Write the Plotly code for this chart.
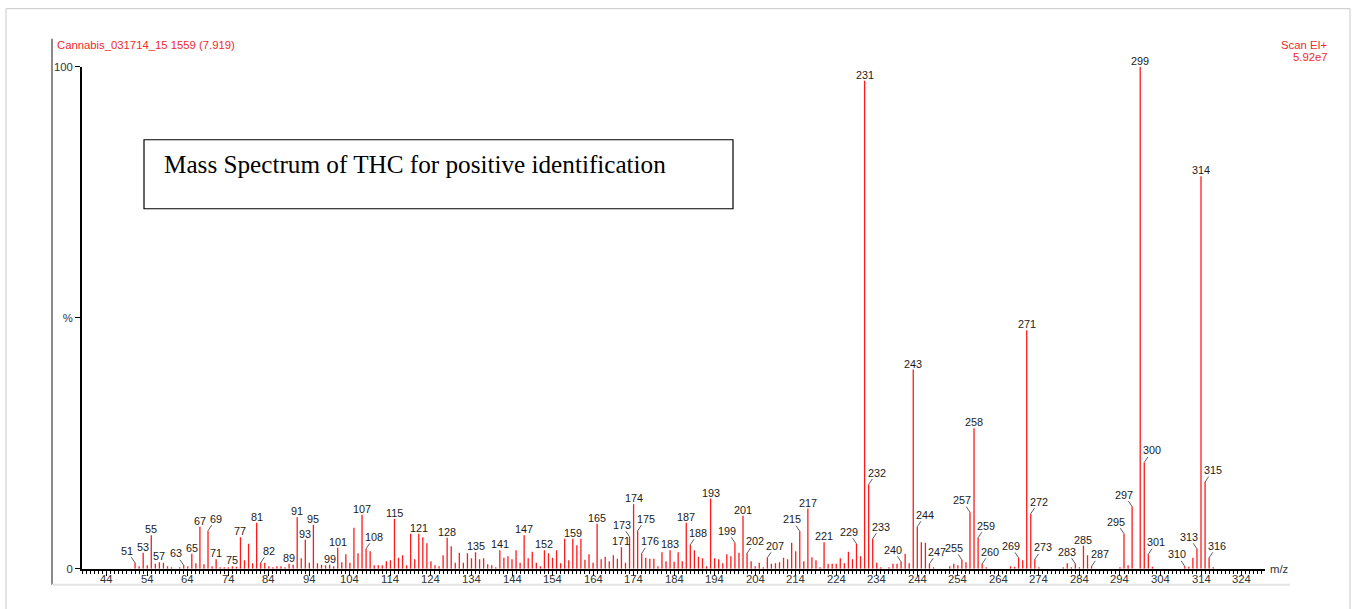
import plotly.graph_objects as go

# ---------------- data ----------------
mz = [51, 52, 53, 54, 55, 56, 57, 58, 59, 60, 62, 63, 64, 65, 66, 67, 68, 69, 70, 71,
      72, 73, 74, 75, 76, 77, 78, 79, 80, 81, 82, 83, 84, 85, 86, 87, 88, 89, 90, 91,
      92, 93, 94, 95, 96, 97, 98, 99, 100, 101, 102, 103, 104, 105, 106, 107, 108, 109, 110, 111,
      112, 113, 114, 115, 116, 117, 118, 119, 120, 121, 122, 123, 124, 125, 126, 127, 128, 129, 130, 131,
      132, 133, 134, 135, 136, 137, 138, 139, 140, 141, 142, 143, 144, 145, 146, 147, 148, 149, 150, 151,
      152, 153, 154, 155, 156, 157, 158, 159, 160, 161, 162, 163, 164, 165, 166, 167, 168, 169, 170, 171,
      172, 173, 174, 175, 176, 177, 178, 179, 180, 181, 182, 183, 184, 185, 186, 187, 188, 189, 190, 191,
      192, 193, 194, 195, 196, 197, 198, 199, 200, 201, 202, 203, 204, 205, 206, 207, 208, 209, 210, 211,
      212, 213, 214, 215, 216, 217, 218, 219, 220, 221, 222, 223, 224, 225, 226, 227, 228, 229, 230, 231,
      232, 233, 234, 235, 237, 238, 239, 240, 241, 242, 243, 244, 245, 246, 247, 248, 252, 253, 254, 255,
      256, 257, 258, 259, 260, 261, 267, 268, 269, 270, 271, 272, 273, 274, 280, 281, 282, 283, 284, 285,
      286, 287, 294, 295, 296, 297, 299, 300, 301, 302, 310, 311, 312, 313, 314, 315, 316, 317]

intensity = [1.2, 0.5, 3.2, 0.7, 6.7, 1.0, 1.3, 1.2, 0.5, 0.3, 0.3, 0.7, 0.5, 3.0, 1.1, 8.4, 0.9, 7.6, 0.5, 1.9,
             0.3, 0.3, 0.3, 0.5, 0.4, 6.3, 1.7, 5.0, 1.1, 9.2, 1.2, 1.2, 0.5, 0.3, 0.5, 0.5, 0.3, 1.0, 0.8, 10.3,
             2.1, 5.8, 1.2, 8.8, 1.1, 0.8, 0.7, 0.8, 0.5, 4.2, 1.3, 2.9, 1.2, 8.2, 3.1, 10.8, 4.0, 3.5, 0.7, 0.7,
             0.7, 1.5, 1.7, 10.0, 2.2, 2.7, 0.7, 7.0, 1.9, 7.0, 6.3, 5.1, 1.5, 0.7, 0.5, 2.7, 6.2, 4.5, 1.2, 3.2,
             1.2, 3.1, 2.1, 3.3, 1.9, 2.1, 0.9, 0.7, 0.3, 3.7, 2.2, 2.5, 1.9, 3.7, 1.2, 6.7, 2.1, 3.4, 1.2, 0.5,
             3.7, 3.1, 2.2, 3.7, 1.1, 6.0, 1.7, 6.0, 4.7, 6.0, 1.8, 2.9, 1.2, 9.0, 1.9, 2.4, 1.5, 2.7, 2.0, 4.3,
             1.2, 6.4, 12.9, 7.6, 3.1, 2.2, 2.0, 2.0, 0.5, 3.3, 1.5, 3.7, 1.4, 3.3, 1.5, 9.2, 4.8, 3.7, 2.4, 2.1,
             0.5, 14.0, 2.1, 1.9, 1.1, 2.9, 2.5, 5.2, 3.2, 10.6, 3.1, 1.5, 0.5, 1.2, 0.3, 2.2, 1.0, 1.1, 1.3, 2.2,
             1.9, 5.2, 3.5, 7.5, 1.5, 12.0, 2.3, 1.7, 0.3, 5.3, 1.0, 1.0, 1.0, 2.1, 1.1, 3.4, 1.9, 5.0, 2.5, 97.2,
             16.8, 6.0, 1.2, 0.3, 0.3, 1.0, 1.0, 1.4, 3.0, 1.1, 39.7, 8.4, 5.3, 5.2, 1.0, 0.3, 0.5, 1.0, 0.7, 1.8,
             1.3, 11.3, 28.0, 6.2, 1.0, 0.3, 0.5, 0.4, 2.2, 1.7, 47.5, 11.0, 1.9, 0.3, 0.3, 1.1, 0.3, 1.0, 0.3, 4.6,
             2.7, 0.5, 0.3, 7.0, 0.7, 12.4, 100.0, 21.2, 2.9, 0.4, 0.5, 0.4, 2.2, 4.0, 78.2, 17.3, 2.2, 0.3]

# labelled peaks: text straight above, or with a short leader to the left / right
labels_above = [53, 55, 57, 65, 67, 71, 75, 77, 81, 89, 91, 93, 95, 99, 101, 107, 115, 121, 128,
                135, 141, 147, 152, 159, 165, 171, 174, 183, 187, 193, 201, 217, 221, 231, 243, 258,
                271, 285, 299, 314]
labels_left = [51, 63, 173, 199, 215, 229, 240, 255, 257, 269, 283, 295, 297, 310, 313]
labels_right = [69, 82, 108, 175, 176, 188, 202, 207, 232, 233, 244, 247, 259, 260, 272, 273, 287,
                300, 301, 315, 316]

x_tick_vals = list(range(44, 325, 10))
y_tick_vals = [0, 50, 100]
y_tick_text = ["0", "%", "100"]

header_left = "Cannabis_031714_15 1559 (7.919)"
header_right_1 = "Scan EI+"
header_right_2 = "5.92e7"
x_axis_label = "m/z"
title_text = "Mass Spectrum of THC for positive identification"

# ---------------- figure ----------------
W, H = 1355, 609
RED = "#ff1a1a"
SANS = "Liberation Sans, Arial, sans-serif"
# small empirical vertical correction of the rendered page
VS, VO = 0.98, 5.3


def px(xp):
    return xp / W


def py(yp):
    return 1 - ((yp - VO) / VS) / H


peak = dict(zip(mz, intensity))

xs, ys = [], []
for m, v in zip(mz, intensity):
    xs += [m, m, None]
    ys += [0, v, None]

fig = go.Figure()
fig.add_trace(go.Scatter(x=xs, y=ys, mode="lines",
                         line=dict(color=RED, width=1.3),
                         hoverinfo="skip", showlegend=False))

annotations = []
lab_font = dict(family=SANS, size=10.8, color="#1a1a1a")
for m in labels_above:
    annotations.append(dict(x=m, y=peak[m], xref="x", yref="y", text=str(m),
                            showarrow=False, xanchor="center", yanchor="bottom",
                            yshift=-1, font=lab_font, borderpad=0))
for m in labels_left:
    annotations.append(dict(x=m, y=peak[m], xref="x", yref="y", text=str(m),
                            showarrow=True, arrowhead=0, arrowwidth=0.8, arrowcolor="#333",
                            ax=-8, ay=-12, standoff=0, font=lab_font, borderpad=0))
for m in labels_right:
    annotations.append(dict(x=m, y=peak[m], xref="x", yref="y", text=str(m),
                            showarrow=True, arrowhead=0, arrowwidth=0.8, arrowcolor="#333",
                            ax=8, ay=-12, standoff=0, font=lab_font, borderpad=0))

# x tick labels (drawn as annotations to sit tight under the axis)
tick_font = dict(family=SANS, size=11.3, color="#333")
for t in x_tick_vals:
    annotations.append(dict(x=t, y=0, xref="x", yref="y", text=str(t), showarrow=False,
                            xanchor="center", yanchor="middle", yshift=-10, font=tick_font))

hdr_font = dict(family=SANS, size=11.3, color="#ee2a2a")
annotations += [
    dict(x=px(55), y=py(44), xref="paper", yref="paper", text=header_left, showarrow=False,
         xanchor="left", yanchor="middle", font=hdr_font),
    dict(x=px(1330), y=py(44), xref="paper", yref="paper", text=header_right_1, showarrow=False,
         xanchor="right", yanchor="middle", font=hdr_font),
    dict(x=px(1330), y=py(56), xref="paper", yref="paper", text=header_right_2, showarrow=False,
         xanchor="right", yanchor="middle", font=hdr_font),
    dict(x=px(1268), y=py(568), xref="paper", yref="paper", text=x_axis_label, showarrow=False,
         xanchor="left", yanchor="middle", font=dict(family=SANS, size=11.3, color="#333")),
    dict(x=px(162), y=py(164), xref="paper", yref="paper", text=title_text, showarrow=False,
         xanchor="left", yanchor="middle",
         font=dict(family="Liberation Serif, Times New Roman, serif", size=25.2, color="#000")),
]

shapes = [
    # outer frame
    dict(type="rect", xref="paper", yref="paper", x0=px(6), x1=px(1350), y0=py(660), y1=py(8),
         line=dict(color="#c8c8c8", width=1), layer="below"),
    # inner left rule
    dict(type="line", xref="paper", yref="paper", x0=px(52), x1=px(52), y0=py(584), y1=py(38),
         line=dict(color="#8a8a8a", width=2)),
    # inner bottom rule
    dict(type="line", xref="paper", yref="paper", x0=px(52), x1=px(1290), y0=py(584), y1=py(584),
         line=dict(color="#e4e4e4", width=2)),
    # title box
    dict(type="rect", xref="paper", yref="paper", x0=px(144), x1=px(733), y0=py(208), y1=py(139),
         line=dict(color="#000", width=1.2), fillcolor="white"),
]

x_lo = 44 - (106.7 - 82) / 4.053
x_hi = 44 + (1265 - 106.7) / 4.053

fig.update_layout(
    width=W, height=H,
    margin=dict(l=0, r=0, t=0, b=0),
    paper_bgcolor="white", plot_bgcolor="white",
    font=dict(family=SANS),
    xaxis=dict(domain=[px(82), px(1265)], range=[x_lo, x_hi],
               showgrid=False, zeroline=False,
               showline=True, linecolor="black", linewidth=2,
               tickmode="array", tickvals=x_tick_vals, showticklabels=False,
               ticks="outside", ticklen=5, tickwidth=1, tickcolor="black",
               minor=dict(dtick=1, tick0=44, ticks="outside", ticklen=3, tickwidth=1,
                          tickcolor="black", showgrid=False)),
    yaxis=dict(domain=[py(568), py(66)], range=[0, 100],
               showgrid=False, zeroline=False,
               showline=True, linecolor="black", linewidth=2,
               tickmode="array", tickvals=y_tick_vals, ticktext=y_tick_text,
               ticks="outside", ticklen=5, tickwidth=1, tickcolor="black",
               tickfont=dict(family=SANS, size=11.3, color="#333")),
    annotations=annotations,
    shapes=shapes,
)

fig.write_html("out.html")
